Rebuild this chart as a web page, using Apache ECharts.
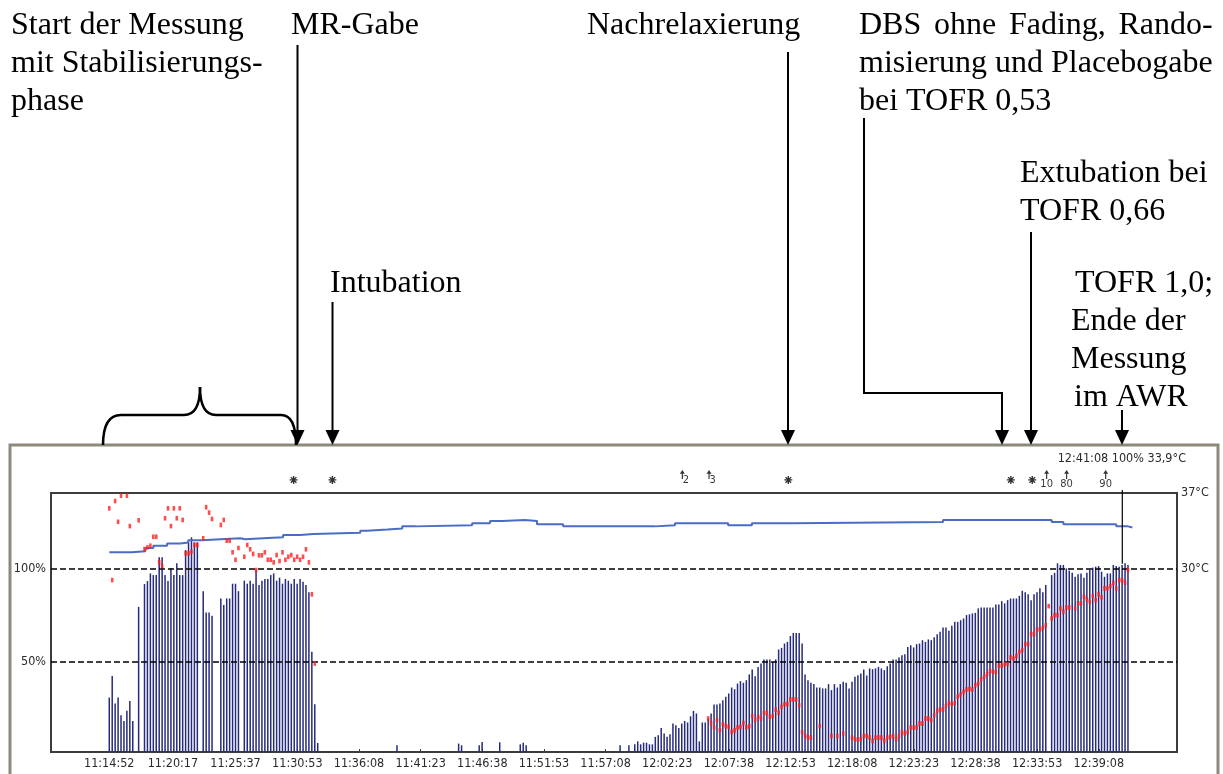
<!DOCTYPE html>
<html>
<head>
<meta charset="utf-8">
<script src="https://cdn.jsdelivr.net/npm/echarts@6/dist/echarts.min.js"></script>
<style>html,body{margin:0;padding:0;background:#fff}#c{width:1223px;height:774px}</style>
</head>
<body>
<div id="c"></div>
<script>
// ---------------- DATA ----------------
const sampleSeconds = 15;                       // one TOF measurement every 15 s
const tickLabels = ['11:14:52','11:20:17','11:25:37','11:30:53','11:36:08','11:41:23','11:46:38','11:51:53','11:57:08','12:02:23','12:07:38','12:12:53','12:18:08','12:23:23','12:28:38','12:33:53','12:39:08'];
const yLabels = [50, 100];
const tempLabels = [30, 37];

// T1 twitch height (%) per sample index
const t1Samples = [
[0,30.9],[1,42.5],[2,27.7],[3,30.9],[4,21.5],[5,18.4],[6,23.8],[7,29.1],[8,18.4],
[10,79.4],
[12,91.6],[13,93.2],[14,97.3],[15,96.4],[16,96.4],[17,105.9],[18,105.9],[19,96.4],[20,93.2],[21,100],[22,96.4],[23,102.7],[24,96.4],[25,96.4],[26,109.8],[27,113.9],[28,116.6],[29,113.9],[30,113.9],
[32,87.8],[33,76.4],[34,76.4],[35,74.6],
[38,83.9],[39,80.4],[40,83.9],[41,83.9],[42,91.8],[43,91.8],[44,87.8],
[46,93.4],[47,91.8],[48,93.4],[49,91.8],[50,99.1],[51,91.1],[52,93.4],[53,94.3],[54,94.3],[55,96.4],[56,97.3],[57,93.4],[58,95],[59,91.8],[60,94.3],[61,93.4],[62,91.8],[63,94.3],[64,91.8],[65,94.3],[66,92.8],[67,91.1],[68,87.2],[69,55.4],[70,27.4],[71,6.6],
[98,5.4],[119,6.3],[120,5.4],[126,5.4],[127,7.2],[133,7],[140,5.9],[141,6.8],[142,5.4],
[174,5.4],[177,5.4],[179,5.9],[180,7.5],[181,5.9],[182,6.8],[183,6.8],[184,5.9],[185,5.9],[186,9.9],[187,10.8],[188,14.7],[189,11.7],[190,9.9],[191,11.3],[192,17],[193,16.1],[194,14.7],[195,17],[196,18.4],[197,17.6],[198,20.9],[199,23.8],[200,22.4],[201,7.5],[202,17.6],[203,17.6],[204,19.7],[205,22.4],[206,27.2],[207,27.2],[208,27.7],[209,29.5],[210,31.3],[211,33.1],[212,36.3],[213,35.4],[214,38.4],[215,39.7],[216,38.8],[217,40.2],[218,43.3],[219,45.9],[220,42.3],[221,47.3],[222,49.1],[223,51.3],[224,51.3],[225,51.3],[226,50],[227,51.3],[228,56.6],[229,57.5],[230,59.8],[231,60.7],[232,63.8],[233,65.5],[234,65.5],[235,65.5],[236,59.8],[237,43.3],[238,40.2],[239,38.8],[240,38.1],[241,36.3],[242,36.3],[243,35.8],[244,35.8],[245,38.1],[246,34.9],[247,38.1],[248,36.3],[249,38.1],[250,39.3],[251,38.8],[252,35.8],[253,39.3],[254,42],[255,42.9],[256,43.8],[257,45.9],[258,42.7],[259,46.5],[260,46.1],[261,46.5],[262,47.3],[263,46.5],[264,45.6],[265,47.7],[266,49.1],[267,51.3],[268,51.3],[269,52.4],[270,53.6],[271,54.1],[272,58],[273,58.9],[274,57.7],[275,59.5],[276,59.8],[277,61.6],[278,60.7],[279,62],[280,61.6],[281,63.1],[282,64.8],[283,66.1],[284,68.4],[285,68.4],[286,66.6],[287,69.3],[288,71.4],[289,71.4],[290,72.3],[291,73.2],[292,75],[293,75.4],[294,75.9],[295,76.2],[296,78.6],[297,79.1],[298,79.1],[299,79.1],[300,79.1],[301,79.1],[302,80.7],[303,80.7],[304,82.5],[305,81.3],[306,83],[307,83.9],[308,83.9],[309,83.9],[310,85.3],[311,88],[312,87.2],[313,86.1],[314,83],[315,86.1],[316,87.2],[317,89.3],[318,87.2],[319,91.1],
[321,96.4],[322,97.6],[323,102.7],[324,101.8],[325,101.8],[326,100],[327,98.8],[328,97.6],[329,95.5],[330,96.8],[331,97.3],[332,95],[333,97.6],[334,99.1],[335,100.4],[336,100.9],[337,101.2],[338,98.2],[339,95.5],[340,97.3],[341,97.3],[342,101.8],[343,101.2],[344,100.9],[345,101.8],[346,102.7],[347,101.8]
];

// TOF ratio (%) per sample index
const tofrSamples = [
[0,132.1],[1,93.7],[2,136],[3,124.9],[4,138.9],[6,138.9],[7,122.6],[10,125.7],
[12,110.3],[13,111.2],[14,112.1],[15,116.9],[16,116.9],[17,103.2],[18,101.2],[19,126.8],[20,132.1],[21,122.6],[22,132.1],[23,126.8],[24,132.1],[25,125.9],[26,108],[27,108],[28,108.9],[29,112.5],[30,112.5],
[32,116.1],[33,132.7],[34,129.8],[35,126.4],
[38,123.2],[39,125.9],[40,114.8],[41,114.8],[42,108.6],[43,104.6],[44,110.9],
[46,106.2],[47,112.5],[48,110.2],[49,107.7],[50,99.1],[51,107],[52,107],[53,108.6],[54,104.6],[55,104.6],[56,103.2],[57,107.1],[58,103.9],[59,108.6],[60,104.6],[61,106.2],[62,107.1],[63,104.6],[64,106.2],[65,104.6],[66,106.2],[67,110.2],[68,103.2],[69,86.1],[70,49.1],
[204,19.7],[205,17.3],[206,14.9],[207,18.8],[208,13.4],[209,16.6],[210,15.7],[211,15.2],[212,12.5],[213,13.4],[214,14.9],[215,15.2],[216,17.3],[217,14.9],[218,15.7],[219,21.1],[220,18.8],[221,20.6],[222,19.7],[223,22.7],[224,22.7],[225,20.6],[226,21.1],[227,24.5],[228,22.7],[229,25.9],[230,27.4],[231,27.4],[232,29.9],[233,29.9],[234,29.9],[235,26.8],[236,12.5],[237,10.4],[238,9.5],[239,9.5],[242,15.7],[246,10.4],[248,10.4],[250,11.7],
[253,9.5],[254,8.6],[255,8.6],[256,8.6],[257,10.4],[258,10.4],[259,9.5],[260,7.7],[261,9.5],[262,9.5],[263,9.5],[264,7.7],[265,9.5],[266,9.9],[267,10.4],[268,8.6],[269,10.4],[270,12.5],[271,11.7],[272,12.5],[273,14.9],[274,14.9],[275,14.9],[276,17],[277,17],[278,19.7],[279,19.7],[280,18.8],[281,21.5],[282,23.8],[283,24.5],[284,24.5],[285,26.4],[286,28.1],[287,27.4],[288,28.1],[289,31.3],[290,32.5],[291,34],[292,35.2],[293,35.5],[294,35.2],[295,37.5],[296,38.4],[297,40.7],[298,42],[299,43.4],[300,45.2],[301,44.6],[302,44.6],[303,47.9],[304,47.9],[305,48.8],[306,48.8],[307,52.4],[308,51.8],[309,53.1],[310,55.4],[311,56.3],[312,59.5],[313,59.5],[314,64.8],[315,64.8],[316,67.3],[317,67.3],[318,68.2],[319,69.6],[320,79.8],[321,73.2],[322,75],[323,75],[324,78.6],[325,76.8],[326,79.1],[327,79.1],[329,78.6],[330,81.3],[331,81.3],[332,84.8],[333,83.4],[334,82.1],[335,85.2],[336,83],[337,86.1],[338,84.5],[339,89.3],[340,89.3],[341,90.5],[342,92.3],[343,89.3],[344,93.7],[345,93.7],[346,92.3],[347,99.1]
];

// temperature (°C) steps: [sample index where value starts, value]
const tempSteps = [
[0,31.5],[7.7,31.6],[12.3,31.9],[15,32.1],[19.7,32.3],[24.2,32.4],[26.9,32.6],[31.7,32.7],[37.8,32.8],[44.6,32.7],[46.3,32.8],[52.4,32.9],[59.2,33.1],[65,33.2],[69.5,33.3],[85.5,33.5],[87.8,33.6],[94.7,33.7],[99.8,33.9],[104.3,34.0],[123.6,34.2],[129.7,34.4],[133.8,34.5],[141.6,34.4],[145.7,34.1],[154.6,33.9],[185.9,34.0],[192.7,34.2],[210.8,34.0],[218.9,34.2],[232.9,34.3],[284,34.5],[321,34.3],[325,34.1],[343,33.9],[347,33.8],[348.5,33.8]
];

// event markers in the top strip (sample index)
const eventStars = [62.8, 76.0, 231.3, 307.1, 314.4];
const eventArrows = [[195.2,'2'],[204.3,'3'],[319.3,'10'],[326.1,'80'],[339.4,'90']];

// cursor readout
const cursorTime = '12:41:08';
const cursorPct = 100;
const cursorTemp = '33,9';

// ---------------- HELPERS ----------------
function sec(s){const p=s.split(':').map(Number);return p[0]*3600+p[1]*60+p[2];}
const t0 = sec(tickLabels[0]);
const tickPos = tickLabels.map(s => (sec(s)-t0)/sampleSeconds);
const cursorPos = (sec(cursorTime)-t0)/sampleSeconds;
function labelFor(v){for(let i=0;i<tickPos.length;i++){if(Math.abs(tickPos[i]-v)<1e-6)return tickLabels[i];}return '';}

const measureCtx = document.createElement('canvas').getContext('2d');
function fontAvailable(f){
  const s='11:14:52 100% WMiil';
  measureCtx.font='40px monospace'; const a=measureCtx.measureText(s).width;
  measureCtx.font='40px "'+f+'", monospace'; const b=measureCtx.measureText(s).width;
  return Math.abs(a-b)>0.5;
}
let NF, NS;
if (fontAvailable('Liberation Sans Narrow')) { NF='"Liberation Sans Narrow"'; NS=15; }
else if (fontAvailable('DejaVu Sans Condensed')) { NF='"DejaVu Sans Condensed"'; NS=12.5; }
else { NF='"Liberation Sans", Arial, sans-serif'; NS=12; }
const SERIF = '"Liberation Serif", "Times New Roman", serif';
const SS = 32;  // annotation font size

// axis extents (layout)
const X_MIN = -19.85, X_MAX = 363.7;
const Y_MIN = 1.8, Y_MAX = 140.3;
const T_MAX = 37, T_MIN = 30 - (100 - Y_MIN) * 7 / (Y_MAX - 100);

const chart = echarts.init(document.getElementById('c'), null, {renderer:'canvas'});
const labelColor = '#2a2a2a';

const option = {
  animation:false,
  backgroundColor:'#ffffff',
  grid:[
    {left:51, top:493, width:1126, height:259, show:true, borderColor:'#3c3c3c', borderWidth:2, backgroundColor:'transparent'},
    {left:51, top:462, width:1126, height:28}
  ],
  xAxis:[
    {type:'value', gridIndex:0, min:X_MIN, max:X_MAX,
     axisLine:{show:false}, splitLine:{show:false},
     axisTick:{show:true, inside:true, length:3, customValues:tickPos, lineStyle:{color:'#3c3c3c', width:1}},
     axisLabel:{customValues:tickPos, formatter:v=>labelFor(v), color:labelColor, fontFamily:NF, fontSize:NS, margin:5}},
    {type:'value', gridIndex:1, min:X_MIN, max:X_MAX, show:false}
  ],
  yAxis:[
    {type:'value', gridIndex:0, min:Y_MIN, max:Y_MAX, axisLine:{show:false}, axisTick:{show:false}, splitLine:{show:false},
     axisLabel:{customValues:yLabels, formatter:v=>v+'%', color:labelColor, fontFamily:NF, fontSize:NS, margin:5}},
    {type:'value', gridIndex:0, position:'right', min:T_MIN, max:T_MAX, axisLine:{show:false}, axisTick:{show:false}, splitLine:{show:false},
     axisLabel:{customValues:tempLabels, formatter:v=>v+'°C', color:labelColor, fontFamily:NF, fontSize:NS, margin:4}},
    {type:'value', gridIndex:1, min:0, max:1, show:false}
  ],
  series:[
    {type:'bar', name:'T1', xAxisIndex:0, yAxisIndex:0, barWidth:1.5, data:t1Samples,
     itemStyle:{color:'#262b7c'}, z:2,
     markLine:{silent:true, symbol:'none', label:{show:false},
       lineStyle:{color:'#000', type:[6,3], width:1.5},
       data: yLabels.map(v=>({yAxis:v}))}},
    {type:'line', name:'Temperatur', xAxisIndex:0, yAxisIndex:1, data:tempSteps, step:'end',
     showSymbol:false, lineStyle:{color:'#4a6cc4', width:2}, z:4},
    {type:'scatter', name:'TOFR', xAxisIndex:0, yAxisIndex:0, data:tofrSamples, symbol:'rect', symbolSize:[2.6,4.6],
     itemStyle:{color:'#ff1f1f'}, z:5},
    {type:'scatter', xAxisIndex:1, yAxisIndex:2, data:eventStars.map(p=>[p,0.36]),
     symbol:'path://M5,0L5,10M0,5L10,5M1.5,1.5L8.5,8.5M8.5,1.5L1.5,8.5', symbolSize:8,
     itemStyle:{color:'#000', borderColor:'#000', borderWidth:1.4}, z:5},
    {type:'scatter', xAxisIndex:1, yAxisIndex:2,
     data:eventArrows.map(a=>({value:[a[0],0.55,a[1]], label:{position: a[1].length===1 ? [3,5] : 'bottom'}})),
     symbol:'path://M3,0L6,4L3.7,4L3.7,10L2.3,10L2.3,4L0,4Z', symbolSize:[5,9],
     itemStyle:{color:'#000'},
     label:{show:true, formatter:p=>p.value[2], distance:0, color:'#000', fontFamily:NF, fontSize:11, lineHeight:11}, z:5}
  ]
};
chart.setOption(option);

// ---------------- ANNOTATIONS ----------------
const LH = 38;
function textW(t){measureCtx.font = SS+'px '+SERIF; return measureCtx.measureText(t).width;}
function T(x, y, text){return {type:'text', x:x, y:y, z:100,
  style:{text:text, fill:'#000', fontFamily:SERIF, fontSize:SS, lineHeight:LH, align:'left', verticalAlign:'top'}};}
// justified line: words spread so the line is as wide as `width`
function J(x, y, line, width){
  const words = line.split(' ');
  const ws = words.map(textW);
  const gap = (width - ws.reduce((a,b)=>a+b,0)) / (words.length-1);
  const out = []; let cx = x;
  words.forEach((w,i)=>{ out.push(T(cx, y, w)); cx += ws[i] + gap; });
  return out;
}
function L(x1,y1,x2,y2,w){return {type:'line', z:100, shape:{x1,y1,x2,y2}, style:{stroke:'#000', lineWidth:w||2}};}
function HEAD(x,y){return {type:'polygon', z:101, shape:{points:[[x-7,y-15],[x+7,y-15],[x,y]]}, style:{fill:'#000'}};}
function BZ(x1,y1,c1x,c1y,c2x,c2y,x2,y2){return {type:'bezierCurve', z:100, shape:{x1,y1,cpx1:c1x,cpy1:c1y,cpx2:c2x,cpy2:c2y,x2,y2}, style:{stroke:'#000', lineWidth:2.5, fill:null}};}

const tipY = 445;
const px = chart.convertToPixel({xAxisIndex:0}, cursorPos);
const cTop = chart.convertToPixel({yAxisIndex:0}, 102.5);
const R0 = 7;   // first text row top

const dbsW = textW('misierung und Placebogabe');

const graphics = [
  {type:'rect', z:90, shape:{x:10, y:445, width:1208, height:345}, style:{fill:null, stroke:'#8d8a7c', lineWidth:3}},
  T(11, R0, 'Start der Messung'),
  T(11, R0+LH, 'mit Stabilisierungs-'),
  T(11, R0+2*LH, 'phase'),
  T(291, R0, 'MR-Gabe'),
  T(587, R0, 'Nachrelaxierung'),
  ...J(859, R0, 'DBS ohne Fading, Rando-', dbsW),
  T(859, R0+LH, 'misierung und Placebogabe'),
  T(859, R0+2*LH, 'bei TOFR 0,53'),
  T(1020, 155, 'Extubation bei'),
  T(1020, 155+LH, 'TOFR 0,66'),
  T(330, 265, 'Intubation'),
  T(1075, 265, 'TOFR 1,0;'),
  T(1071, 265+LH, 'Ende der'),
  T(1071, 265+2*LH, 'Messung'),
  T(1074, 265+3*LH, 'im AWR'),
  // arrows
  L(297.5, 45, 297.5, tipY-10), HEAD(297.5, tipY),
  L(332.5, 302, 332.5, tipY-10), HEAD(332.5, tipY),
  L(788, 52, 788, tipY-10), HEAD(788, tipY),
  {type:'polyline', z:100, shape:{points:[[864,118],[864,393],[1002,393],[1002,tipY-10]]}, style:{stroke:'#000', lineWidth:2, fill:null}},
  HEAD(1002, tipY),
  L(1031, 232, 1031, tipY-10), HEAD(1031, tipY),
  L(1122, 410, 1122, tipY-10), HEAD(1122, tipY),
  // brace
  BZ(103,445, 103,426, 108,415, 121,415),
  L(121,415,184,415,2.5),
  BZ(184,415, 195,415, 200,405, 200,387),
  BZ(200,387, 200,405, 205,415, 216,415),
  L(216,415,281,415,2.5),
  BZ(281,415, 292,415, 296,426, 296,445),
  // readout and cursor
  {type:'text', x:1186, y:459, z:100, style:{text:cursorTime+' '+cursorPct+'% '+cursorTemp+'°C', fill:labelColor, fontFamily:NF, fontSize:NS, align:'right', verticalAlign:'middle'}},
  {type:'line', z:50, shape:{x1:px, y1:490, x2:px, y2:cTop}, style:{stroke:'#000', lineWidth:1.2}}
];
chart.setOption({graphic:graphics});
</script>
</body>
</html>
